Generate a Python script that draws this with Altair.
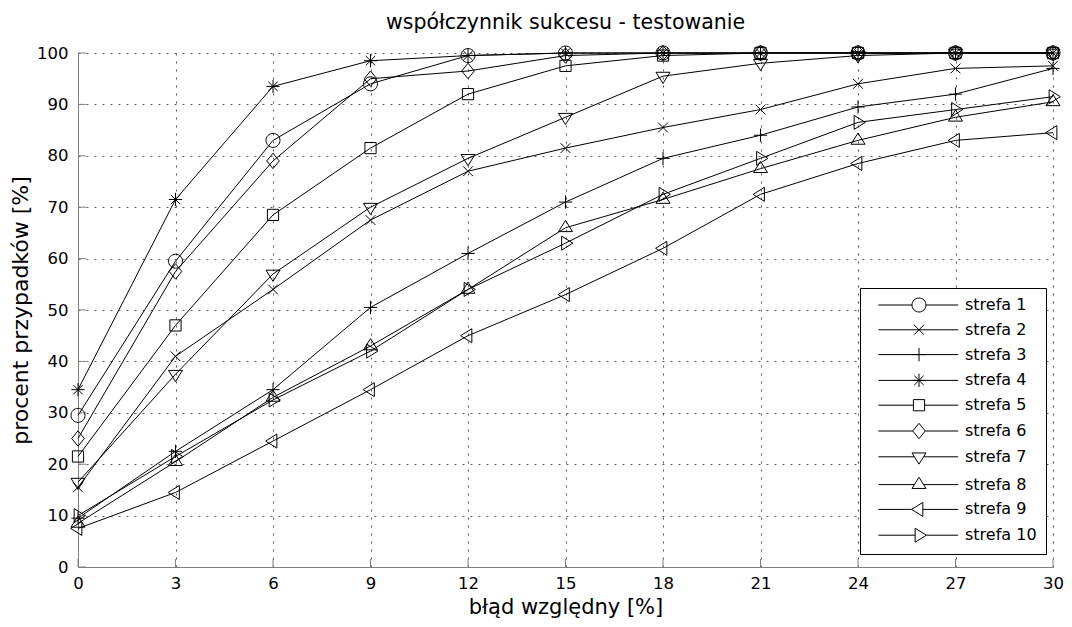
import altair as alt
import pandas as pd

# ---- data ----
x_vals = [0, 3, 6, 9, 12, 15, 18, 21, 24, 27, 30]
zones = ["strefa 1", "strefa 2", "strefa 3", "strefa 4", "strefa 5",
         "strefa 6", "strefa 7", "strefa 8", "strefa 9", "strefa 10"]
s1 = [29.5, 59.5, 83.0, 94.0, 99.5, 100, 100, 100, 100, 100, 100]
s2 = [15.5, 41.0, 54.0, 67.5, 77.0, 81.5, 85.5, 89.0, 94.0, 97.0, 97.5]
s3 = [9.5, 22.5, 34.5, 50.5, 61.0, 71.0, 79.5, 84.0, 89.5, 92.0, 97.0]
s4 = [34.5, 71.5, 93.5, 98.5, 99.5, 100, 100, 100, 100, 100, 100]
s5 = [21.5, 47.0, 68.5, 81.5, 92.0, 97.5, 99.5, 100, 100, 100, 100]
s6 = [25.0, 57.5, 79.0, 95.0, 96.5, 99.5, 100, 100, 100, 100, 100]
s7 = [16.5, 37.5, 57.0, 70.0, 79.5, 87.5, 95.5, 98.0, 99.5, 100, 100]
s8 = [8.5, 20.5, 33.0, 43.0, 54.0, 66.0, 71.5, 77.5, 83.0, 87.5, 90.5]
s9 = [7.5, 14.5, 24.5, 34.5, 45.0, 53.0, 62.0, 72.5, 78.5, 83.0, 84.5]
s10 = [10.0, 21.5, 32.5, 42.0, 54.0, 63.0, 72.5, 79.5, 86.5, 89.0, 91.5]
series = [s1, s2, s3, s4, s5, s6, s7, s8, s9, s10]

y_ticks = [0, 10, 20, 30, 40, 50, 60, 70, 80, 90, 100]

rows = []
for z, ys in zip(zones, series):
    for xv, yv in zip(x_vals, ys):
        rows.append({"x": xv, "y": yv, "zone": z})
df = pd.DataFrame(rows)

# ---- marker shapes (unit paths) ----
marker_paths = [
    "M-1,0A1,1,0,1,1,1,0A1,1,0,1,1,-1,0Z",                       # circle
    "M-0.7,-0.7L0.7,0.7M-0.7,0.7L0.7,-0.7",                      # x
    "M-0.95,0L0.95,0M0,-0.95L0,0.95",                            # plus
    "M-0.95,0L0.95,0M0,-0.95L0,0.95M-0.67,-0.67L0.67,0.67M-0.67,0.67L0.67,-0.67",  # star
    "M-0.8,-0.8L0.8,-0.8L0.8,0.8L-0.8,0.8Z",                     # square
    "M0,-1.1L0.9,0L0,1.1L-0.9,0Z",                               # diamond
    "M-1,-0.55L1,-0.55L0,1.05Z",                                 # triangle down
    "M-1,0.55L1,0.55L0,-1.05Z",                                  # triangle up
    "M-1.05,0L0.55,-1L0.55,1Z",                                  # triangle left
    "M1.05,0L-0.55,-1L-0.55,1Z",                                 # triangle right
]
legend_lines = [
    "M-5.8,0L-1,0M1,0L5.6,0",
    "M-5.8,0L5.6,0",
    "M-5.8,0L5.6,0",
    "M-5.8,0L5.6,0",
    "M-5.8,0L-0.8,0M0.8,0L5.6,0",
    "M-5.8,0L-0.9,0M0.9,0L5.6,0",
    "M-5.8,0L-0.66,0M0.66,0L5.6,0",
    "M-5.8,0L-0.66,0M0.66,0L5.6,0",
    "M-5.8,0L-1.05,0M0.55,0L5.6,0",
    "M-5.8,0L-0.55,0M1.05,0L5.6,0",
]
legend_paths = [m + l for m, l in zip(marker_paths, legend_lines)]

W, H = 975, 514
FONT = "DejaVu Sans"

x_scale = alt.Scale(domain=[0, 30], nice=False, zero=False)
y_scale = alt.Scale(domain=[0, 100], nice=False)

x_axis = alt.Axis(values=x_vals, title="błąd względny [%]", grid=True, ticks=False, tickSize=0,
                  labelPadding=8, titlePadding=5, labelFlush=False)
y_axis = alt.Axis(values=y_ticks, title="procent przypadków [%]", grid=True, ticks=False, tickSize=0,
                  labelPadding=10, titlePadding=4, labelFlush=False)

base = alt.Chart(df)

lines = base.mark_line(color="black", strokeWidth=1).encode(
    x=alt.X("x:Q", scale=x_scale, axis=x_axis),
    y=alt.Y("y:Q", scale=y_scale, axis=y_axis),
    detail="zone:N",
    order="x:Q",
)

points = base.mark_point(filled=False, color="black", strokeWidth=1, size=196, opacity=1).encode(
    x="x:Q",
    y="y:Q",
    shape=alt.Shape("zone:N", scale=alt.Scale(domain=zones, range=marker_paths), legend=None),
)

legend_layer = base.transform_filter("false").mark_point(
    filled=False, color="black", strokeWidth=1, size=196, opacity=1
).encode(
    x="x:Q",
    y="y:Q",
    shape=alt.Shape(
        "zone:N",
        scale=alt.Scale(domain=zones, range=legend_paths),
        sort=zones,
        legend=alt.Legend(
            title=None, orient="none", legendX=782, legendY=235, direction="vertical",
            strokeColor="black", fillColor="white", padding=9,
            symbolSize=196, symbolStrokeWidth=1, symbolStrokeColor="black",
            symbolFillColor="transparent", symbolOffset=42, labelOffset=38,
            labelFont=FONT, labelFontSize=16, labelColor="black", rowPadding=7.8,
            labelLimit=200,
        ),
    ),
)

# inward tick marks drawn from the tick arrays
xt = pd.DataFrame({"t": x_vals})
yt = pd.DataFrame({"t": y_ticks})
x_tick_marks = alt.Chart(xt).mark_rule(color="#808080", strokeWidth=1).encode(
    x=alt.X("t:Q", scale=x_scale), y=alt.value(H), y2=alt.value(H - 8)
)
y_tick_marks = alt.Chart(yt).mark_rule(color="#808080", strokeWidth=1).encode(
    y=alt.Y("t:Q", scale=y_scale), x=alt.value(0), x2=alt.value(8)
)

chart = alt.layer(lines, x_tick_marks, y_tick_marks, points, legend_layer).resolve_scale(
    shape="independent"
).properties(
    width=W, height=H,
    title=alt.TitleParams("współczynnik sukcesu - testowanie", font=FONT, fontSize=20.5,
                          fontWeight="normal", color="black", anchor="middle", offset=10),
    autosize=alt.AutoSizeParams(type="none"),
    padding={"left": 70, "top": 45, "right": 11, "bottom": 52},
    background="white",
).configure_view(stroke=None).configure_axis(
    labelFont=FONT, labelFontSize=16.5, labelColor="black",
    titleFont=FONT, titleFontWeight="normal", titleColor="black",
    domainColor="#808080", domainWidth=1,
    gridColor="#333333", gridDash=[2, 6], gridWidth=1, gridOpacity=0.8,
).configure_axisX(titleFontSize=21).configure_axisY(titleFontSize=22)

chart.save("out.html", embed_options={"renderer": "svg", "actions": False})
